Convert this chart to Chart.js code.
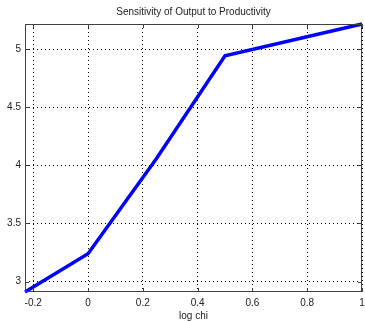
<!DOCTYPE html>
<html>
<head>
<meta charset="utf-8">
<script src="https://cdn.jsdelivr.net/npm/chart.js@4/dist/chart.umd.min.js"></script>
<style>
    html, body { margin: 0; padding: 0; background: #fff; }
    #wrap { width: 365px; height: 322px; }
</style>
</head>
<body>
<div id="wrap"><canvas id="lineChart"></canvas></div>
<script>
// values
const logChi = [-0.23, 0, 0.25, 0.5, 1];
const output = [2.91, 3.24, 4.06, 4.945, 5.218];
const xTicks = [-0.2, 0, 0.2, 0.4, 0.6, 0.8, 1];
const yTicks = [3, 3.5, 4, 4.5, 5];

const points = logChi.map((x, i) => ({ x: x, y: output[i] }));

// box round the axes plus small inward ticks, matlab style
const boxPlugin = {
    id: 'box',
    afterDraw(chart) {
        const ctx = chart.ctx;
        const a = chart.chartArea;
        const xs = chart.scales.x;
        const ys = chart.scales.y;
        ctx.save();
        ctx.strokeStyle = '#404040';
        ctx.lineWidth = 1;
        ctx.setLineDash([]);
        ctx.strokeRect(a.left + 0.5, a.top + 0.5, a.right - a.left - 1, a.bottom - a.top - 1);
        ctx.beginPath();
        xTicks.forEach(v => {
            const px = Math.round(xs.getPixelForValue(v)) + 0.5;
            ctx.moveTo(px, a.bottom); ctx.lineTo(px, a.bottom - 4);
            ctx.moveTo(px, a.top); ctx.lineTo(px, a.top + 4);
        });
        yTicks.forEach(v => {
            const py = Math.round(ys.getPixelForValue(v)) + 0.5;
            ctx.moveTo(a.left, py); ctx.lineTo(a.left + 4, py);
            ctx.moveTo(a.right, py); ctx.lineTo(a.right - 4, py);
        });
        ctx.stroke();
        ctx.restore();
    }
};

const font = { family: 'Liberation Sans, Arial, sans-serif', size: 10 };
const textColor = '#222';

const ctx = document.getElementById('lineChart').getContext('2d');
new Chart(ctx, {
    type: 'scatter',
    data: {
        datasets: [{
            data: points,
            showLine: true,
            borderColor: '#0000ff',
            borderWidth: 3.5,
            pointRadius: 0,
            tension: 0,
            clip: 2
        }]
    },
    options: {
        responsive: true,
        maintainAspectRatio: false,
        animation: false,
        layout: { padding: { right: 3, left: 0, top: 0, bottom: 0 } },
        plugins: {
            legend: { display: false },
            tooltip: { enabled: false },
            title: {
                display: true,
                text: 'Sensitivity of Output to Productivity',
                fullSize: false,
                color: textColor,
                font: { family: font.family, size: 10, weight: 'normal' },
                padding: { top: 6, bottom: 6 }
            }
        },
        scales: {
            x: {
                type: 'linear',
                min: -0.23,
                max: 1,
                afterBuildTicks: s => { s.ticks = xTicks.map(v => ({ value: v })); },
                afterFit: s => {
                    s.height = 30;
                    // let the plot reach the right edge like the original
                    s.paddingLeft = 0;
                    s.paddingRight = 0;
                },
                grid: {
                    color: '#000',
                    lineWidth: 1,
                    drawTicks: false
                },
                border: { display: false, dash: [1, 3] },
                ticks: {
                    color: textColor, font: font, padding: 5, maxRotation: 0,
                    callback: v => String(v)
                },
                title: {
                    display: true,
                    text: 'log chi',
                    color: textColor,
                    font: font,
                    padding: { top: 1, bottom: 0 }
                }
            },
            y: {
                type: 'linear',
                min: 2.91,
                max: 5.218,
                afterBuildTicks: s => { s.ticks = yTicks.map(v => ({ value: v })); },
                afterFit: s => { s.width = 25; },
                grid: {
                    color: '#000',
                    lineWidth: 1,
                    drawTicks: false
                },
                border: { display: false, dash: [1, 3] },
                ticks: { color: textColor, font: font, padding: 4, callback: v => String(v) }
            }
        }
    },
    plugins: [boxPlugin]
});
</script>
</body>
</html>
